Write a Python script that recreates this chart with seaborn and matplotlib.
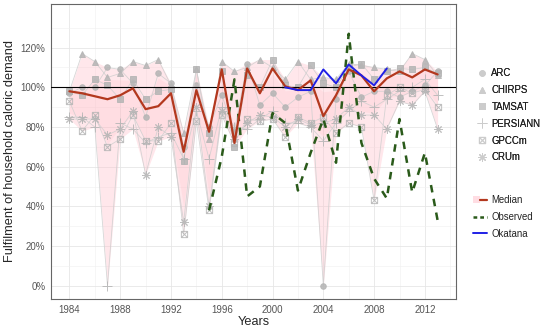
import numpy as np
import pandas as pd
import matplotlib
matplotlib.use("Agg")
import matplotlib.pyplot as plt
import seaborn as sns
from matplotlib.path import Path
from matplotlib.lines import Line2D
from matplotlib.patches import Patch
from matplotlib.legend_handler import HandlerTuple
from matplotlib.ticker import FuncFormatter

# Daten
years = list(range(1984, 2014))
arc      = [97, 100, 100, 110, 109, 102, 85, 107, 102, 70, 101, 80, 96, 78, 112, 91, 97, 90, 95, 98, 0, 94, 108, 95, 98, 98, 95, 98, 101, 108]
chirps   = [98, 117, 113, 105, 107, 113, 111, 114, 101, 77, 109, 74, 113, 108, 110, 114, 110, 104, 113, 104, 105, 104, 112, 111, 110, 109, 108, 117, 114, 106]
tamsat   = [98, 96, 104, 101, 94, 104, 94, 98, 99, 63, 109, 77, 108, 70, 106, 100, 114, 101, 100, 111, 102, 100, 110, 112, 104, 108, 109.5, 109, 110, 107]
persiann = [85, 85, 80, 0, 82, 79, 72, 75, 77, 64, 88, 64, 90, 80, 79, 84, 88, 82, 82, 80, 73, 82, 88, 93, 90, 94, 98, 100, 104, 96]
gpccm    = [93, 78, 86, 70, 74, 86, 73, 73, 82, 26, 83, 38, 86, 72, 84, 83, 84, 75, 85, 82, 85, 77, 82, 80, 43, 96, 100, 97, 99, 90]
crum     = [84, 84, 84, 76, 79, 88, 56, 80, 75, 32, 90, 40, 88, 74, 82, 86, 85, 80, 84, 81, 82, 84, 90, 86, 86, 79, 93, 91, 98, 79]

median = [98, 97, 95.5, 94, 96, 99.5, 89, 90.5, 97, 67.5, 98.6, 77.6, 109, 72, 109.5, 97, 109.5, 100.5, 98.6, 103.5, 85.5, 96, 109, 106, 98, 104.5, 108, 105, 109, 106.5]

obs_years = list(range(1995, 2014))
observed = [38, 65, 104, 45, 50, 87, 82, 48, 67, 84, 62, 127, 72, 54, 44, 84, 47, 67, 33]

oka_years = list(range(2001, 2010))
okatana = [100, 98.6, 98.6, 109, 102, 111.5, 106, 101, 109.5]

products = ["ARC", "CHIRPS", "TAMSAT", "PERSIANN", "GPCCm", "CRUm"]
values = [arc, chirps, tamsat, persiann, gpccm, crum]

# Kästchen mit Kreuz (GPCCm)
box_x = Path([(-1, -1), (1, -1), (1, 1), (-1, 1), (-1, -1), (-1, -1), (1, 1), (-1, 1), (1, -1)],
             [Path.MOVETO, Path.LINETO, Path.LINETO, Path.LINETO, Path.CLOSEPOLY,
              Path.MOVETO, Path.LINETO, Path.MOVETO, Path.LINETO])
markers = {"ARC": ("o", 4.0, True), "CHIRPS": ("^", 4.6, True), "TAMSAT": ("s", 4.0, True),
           "PERSIANN": ("+", 6.5, False), "GPCCm": (box_x, 4.5, False), "CRUm": ((8, 2, 0), 6.0, False)}

df = pd.DataFrame({"year": np.repeat(years, len(products)),
                   "product": products * len(years),
                   "value": np.array(values).T.ravel()})

sns.set_theme(style="white")
plt.rcParams["font.family"] = ["Liberation Sans", "DejaVu Sans"]

fig = plt.figure(figsize=(5.5, 3.32), dpi=100)
ax = fig.add_axes([51 / 550, 1 - 299 / 332, 405 / 550, 295 / 332])

# Bänder
arr = np.array(values)
ax.fill_between(years, arr.min(axis=0), arr.max(axis=0), color="#FFC0CB", alpha=0.38, lw=0, zorder=1)
ax.fill_between(years, np.percentile(arr, 25, axis=0), np.percentile(arr, 75, axis=0),
                color="#FFB0BC", alpha=0.18, lw=0, zorder=1.1)

grey = "#B4B4B4"
for p in products:
    m, ms, filled = markers[p]
    sub = df[df["product"] == p]
    sns.lineplot(data=sub, x="year", y="value", ax=ax, color="#CFCFCF", lw=0.6, alpha=0.85,
                 marker=m, markersize=ms, mec=grey, mfc=grey if filled else "none",
                 mew=0.7, zorder=2)

ax.axhline(100, color="black", lw=0.8, zorder=3)

sns.lineplot(x=years, y=median, ax=ax, color="#B3381E", lw=1.6, zorder=5)
sns.lineplot(x=obs_years, y=observed, ax=ax, color="#2A5A1A", lw=1.8, dashes=(3, 2.6), zorder=4)
sns.lineplot(x=oka_years, y=okatana, ax=ax, color="#2020E6", lw=1.4, zorder=6)

ax.set_xticks(range(1984, 2013, 4))
ax.set_xticks(range(1986, 2015, 4), minor=True)
ax.set_yticks(range(0, 121, 20))
ax.set_yticks(range(10, 141, 20), minor=True)
ax.yaxis.set_major_formatter(FuncFormatter(lambda v, _: f"{v:.0f}%"))
ax.set_xlim(1982.55, 2014.45)
ax.set_ylim(-6.7, 142)
ax.grid(which="major", color="#E6E6E6", lw=0.6)
ax.grid(which="minor", color="#F0F0F0", lw=0.4)
ax.set_axisbelow(True)
for s in ax.spines.values():
    s.set_color("#666666")
    s.set_linewidth(0.8)
ax.tick_params(which="major", length=2.5, width=0.6, color="#444444", labelsize=7, labelcolor="#555555", pad=1.5)
ax.tick_params(which="minor", length=0)
ax.set_xlabel("Years", fontsize=9.2, labelpad=1)
ax.set_ylabel("Fulfilment of household caloric demand", fontsize=9.2, labelpad=3)

# Legenden
h1 = []
for p in products:
    m, ms, filled = markers[p]
    h1.append(Line2D([], [], ls="none", marker=m, markersize=ms, color="#CCCCCC",
                     mec="#CCCCCC", mfc="#CCCCCC" if filled else "none", mew=0.7))
leg1 = fig.legend(h1, products, loc="upper left", bbox_to_anchor=(476 / 550, 1 - 68 / 332),
                  frameon=False, fontsize=6.9, handlelength=1.2, handletextpad=0.4,
                  labelspacing=0.72, borderpad=0, borderaxespad=0, labelcolor="#222222")

h2 = [(Patch(color="#FFDDE3", lw=0), Line2D([], [], color="#B3381E", lw=1.6)),
      Line2D([], [], color="#2A5A1A", lw=1.8, ls=(0, (1.5, 1.2))),
      Line2D([], [], color="#2020E6", lw=1.4)]
fig.legend(h2, ["Median", "Observed", "Okatana"], loc="upper left",
           bbox_to_anchor=(473 / 550, 1 - 195 / 332), frameon=False, fontsize=6.9,
           handlelength=1.5, handletextpad=0.4, labelspacing=0.72, borderpad=0, borderaxespad=0,
           handler_map={tuple: HandlerTuple(ndivide=None, pad=0)}, labelcolor="#222222")
fig.add_artist(leg1)

fig.savefig("out.png", dpi=100)
